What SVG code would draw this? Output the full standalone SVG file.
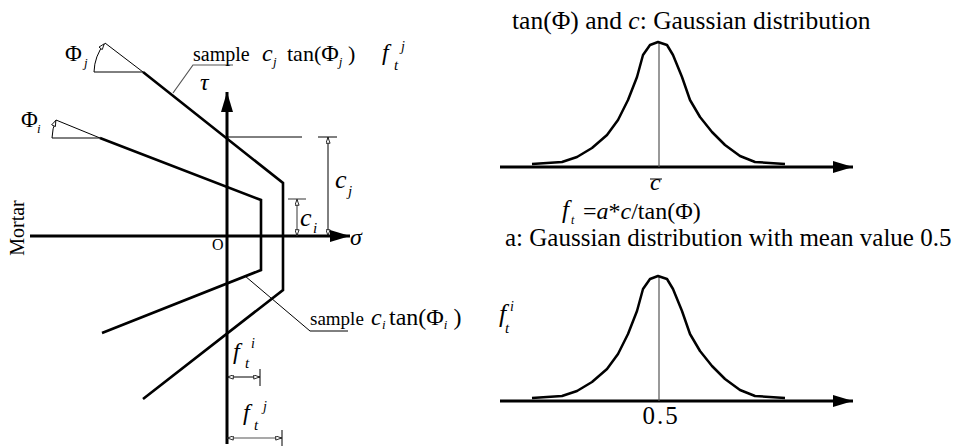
<svg xmlns="http://www.w3.org/2000/svg" width="973" height="446" viewBox="0 0 973 446">
<style>
text{font-family:"Liberation Serif","Times New Roman",serif;fill:#000}
.it{font-style:italic}
.thick{fill:none;stroke:#000;stroke-width:2.6;stroke-linejoin:miter}
.axis{fill:none;stroke:#000;stroke-width:3}
.thin{fill:none;stroke:#000;stroke-width:1}
.gray{fill:none;stroke:#555;stroke-width:1.2}
.curve{fill:none;stroke:#000;stroke-width:2.5;stroke-linejoin:round}
</style>
<defs>
<marker id="big" viewBox="0 0 20 12" refX="20" refY="6" markerWidth="20" markerHeight="12" markerUnits="userSpaceOnUse" orient="auto">
<path d="M0,0 L20,6 L0,12 Z" fill="#000"/>
</marker>
<marker id="small" viewBox="0 0 8 6" refX="8" refY="3" markerWidth="7" markerHeight="5" markerUnits="userSpaceOnUse" orient="auto-start-reverse">
<path d="M0.5,0.5 L7.5,3 L0.5,5.5 Z" fill="#fff" stroke="#000" stroke-width="1"/>
</marker>
</defs>

<g id="left-plot">
<g id="axes">
<line class="axis" x1="30" y1="236" x2="350" y2="236" marker-end="url(#big)"/>
<line class="axis" x1="227" y1="444" x2="227" y2="92" marker-end="url(#big)"/>
</g>
<g id="envelope-i">
<polyline class="thick" points="100,138 261,200 261,270 102,333"/>
<line class="thin" x1="52" y1="138" x2="100" y2="138"/>
<line class="thin" x1="56" y1="120" x2="100" y2="138"/>
<path class="thin" d="M52,138 A48,48 0 0 1 56,120" marker-end="url(#small)"/>
<text x="21" y="127" font-size="23">Φ</text>
<text x="37" y="133" font-size="13" class="it">i</text>
</g>
<g id="envelope-j">
<polyline class="thick" points="143,72 283,183 283,290 143,399"/>
<line class="thin" x1="94" y1="72" x2="143" y2="72"/>
<line class="thin" x1="105" y1="43" x2="143" y2="72"/>
<path class="thin" d="M94,72 A48,48 0 0 1 104.5,43.5" marker-end="url(#small)"/>
<text x="65" y="61" font-size="23">Φ</text>
<text x="84" y="67" font-size="13" class="it">j</text>
</g>
<g id="labels-axes">
<text x="200" y="90" font-size="24" class="it">τ</text>
<text x="350" y="245" font-size="24" class="it">σ</text>
<text x="212" y="250" font-size="16">O</text>
<text transform="translate(24,228) rotate(-90)" text-anchor="middle" font-size="20">Mortar</text>
</g>
<g id="dim-cj">
<line class="thin" x1="227" y1="137" x2="302" y2="137"/>
<line class="thin" x1="318" y1="137" x2="337" y2="137"/>
<line class="thin" x1="328" y1="137" x2="328" y2="236" marker-start="url(#small)" marker-end="url(#small)"/>
<text x="335" y="188" font-size="26" class="it">c</text>
<text x="348" y="196" font-size="15" class="it">j</text>
</g>
<g id="dim-ci">
<line class="gray" x1="288" y1="199" x2="306" y2="199"/>
<line class="gray" x1="297" y1="199" x2="297" y2="236" marker-start="url(#small)" marker-end="url(#small)"/>
<text x="300" y="226" font-size="26" class="it">c</text>
<text x="313" y="233" font-size="15" class="it">i</text>
</g>
<g id="dim-fti">
<line class="thin" x1="227" y1="377" x2="260" y2="377" marker-start="url(#small)" marker-end="url(#small)"/>
<line class="thin" x1="260" y1="369" x2="260" y2="386"/>
<text x="233" y="359" font-size="24" class="it">f</text>
<text x="251" y="348" font-size="14" class="it">i</text>
<text x="245" y="368" font-size="15" class="it">t</text>
</g>
<g id="dim-ftj">
<line class="gray" x1="227" y1="438" x2="282" y2="438" marker-start="url(#small)" marker-end="url(#small)"/>
<line class="thin" x1="282" y1="430" x2="282" y2="446"/>
<text x="243" y="420" font-size="24" class="it">f</text>
<text x="263" y="411" font-size="14" class="it">j</text>
<text x="254" y="430" font-size="15" class="it">t</text>
</g>
<g id="sample-j">
<polyline class="gray" points="173,93 193,65 233,65"/>
<text x="193" y="61" font-size="20">sample</text>
<text x="262" y="61" font-size="24" class="it">c</text>
<text x="273" y="66" font-size="13" class="it">j</text>
<text x="287" y="61" font-size="22">tan(<tspan font-size="24">Φ</tspan><tspan font-size="13" class="it" dy="5">j</tspan><tspan dy="-5"> )</tspan></text>
<text x="382" y="60" font-size="24" class="it">f</text>
<text x="401" y="51" font-size="14" class="it">j</text>
<text x="394" y="70" font-size="15" class="it">t</text>
</g>
<g id="sample-i">
<polyline class="thin" points="245,276 310,331 348,331"/>
<text x="310" y="325" font-size="19">sample</text>
<text x="371" y="325" font-size="24" class="it">c</text>
<text x="382" y="329" font-size="13" class="it">i</text>
<text x="389" y="325" font-size="24">tan(Φ<tspan font-size="13" class="it" dy="4">i</tspan><tspan dy="-4">  )</tspan></text>
</g>
</g>

<g id="top-distribution">
<text x="512" y="29" font-size="25.5">tan(Φ) and <tspan class="it">c</tspan>: Gaussian distribution</text>
<line class="axis" x1="500" y1="167" x2="853" y2="167" marker-end="url(#big)"/>
<line class="gray" x1="659" y1="42" x2="659" y2="167"/>
<polyline id="gauss1" class="curve" points="532,164 562,162 577,157 592,148 607,135 618,120 628,100 637,77 643,55 650,45 658,42 667,45 673,55 682,77 690,100 700,117 712,132 725,145 740,156 755,162 785,164"/>
<text x="650" y="190" font-size="24" class="it">c</text>
<line class="thin" x1="650" y1="179" x2="662" y2="179"/>
</g>

<g id="formula">
<text x="562" y="218" font-size="25" class="it">f</text>
<text x="571" y="224" font-size="12" class="it">t</text>
<text x="583" y="219" font-size="24">=<tspan class="it">a</tspan>*<tspan class="it">c</tspan>/tan(Φ)</text>
<text x="505" y="246" font-size="25">a: Gaussian distribution with mean value 0.5</text>
</g>

<g id="bottom-distribution">
<line class="axis" x1="500" y1="401" x2="853" y2="401" marker-end="url(#big)"/>
<line class="gray" x1="659" y1="276" x2="659" y2="401"/>
<polyline class="curve" transform="translate(0,234)" points="532,164 562,162 577,157 592,148 607,135 618,120 628,100 637,77 643,55 650,45 658,42 667,45 673,55 682,77 690,100 700,117 712,132 725,145 740,156 755,162 785,164"/>
<text x="661" y="424" font-size="25" text-anchor="middle" letter-spacing="2">0.5</text>
<text x="499" y="322" font-size="26" class="it">f</text>
<text x="510" y="311" font-size="14" class="it">i</text>
<text x="505" y="333" font-size="15" class="it">t</text>
</g>
</svg>
